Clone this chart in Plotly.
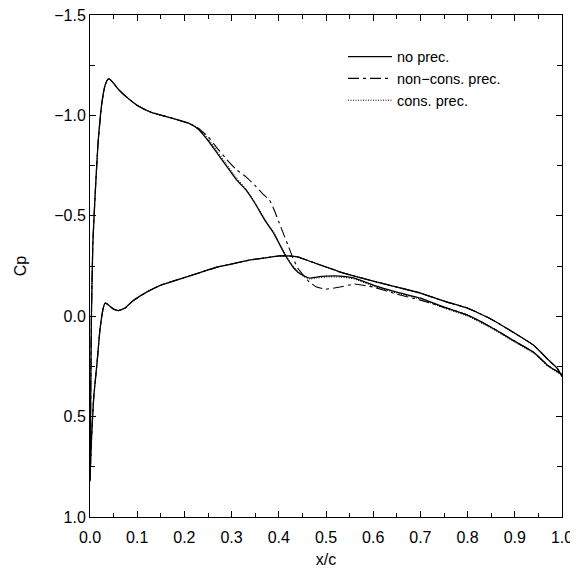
import plotly.graph_objects as go

# ---------------- data ----------------
# upper (suction) surface
x_upper = [0.0, 0.001, 0.002, 0.003, 0.006, 0.011, 0.017, 0.025, 0.032, 0.038, 0.042,
           0.05, 0.06, 0.078, 0.10, 0.13, 0.16, 0.19, 0.21, 0.23, 0.25, 0.27, 0.29,
           0.31, 0.33, 0.35, 0.37, 0.38, 0.39, 0.40, 0.41, 0.42, 0.43, 0.44, 0.45,
           0.465, 0.48, 0.50, 0.53, 0.56, 0.60, 0.65, 0.70, 0.75, 0.80, 0.85, 0.90,
           0.94, 0.97, 0.99, 1.0]
cp_upper_noprec = [0.82, 0.55, 0.25, 0.0, -0.36, -0.61, -0.86, -1.06, -1.15, -1.18, -1.18,
                   -1.16, -1.13, -1.09, -1.05, -1.015, -0.995, -0.975, -0.96, -0.93, -0.875,
                   -0.81, -0.745, -0.68, -0.63, -0.56, -0.48, -0.445, -0.41, -0.365, -0.32,
                   -0.28, -0.245, -0.22, -0.205, -0.19, -0.195, -0.20, -0.20, -0.19, -0.155,
                   -0.12, -0.09, -0.045, -0.005, 0.055, 0.125, 0.18, 0.245, 0.275, 0.29]
cp_upper_noncons = [0.82, 0.55, 0.25, 0.0, -0.36, -0.61, -0.86, -1.06, -1.15, -1.18, -1.18,
                    -1.16, -1.13, -1.09, -1.05, -1.015, -0.995, -0.975, -0.96, -0.935, -0.895,
                    -0.835, -0.78, -0.73, -0.695, -0.65, -0.60, -0.58, -0.53, -0.47, -0.41,
                    -0.35, -0.29, -0.24, -0.21, -0.17, -0.145, -0.135, -0.145, -0.16, -0.145,
                    -0.11, -0.08, -0.045, -0.005, 0.055, 0.125, 0.18, 0.245, 0.275, 0.29]
cp_upper_cons = [0.82, 0.55, 0.25, 0.0, -0.36, -0.61, -0.86, -1.06, -1.15, -1.18, -1.18,
                 -1.16, -1.13, -1.09, -1.05, -1.015, -0.995, -0.975, -0.96, -0.935, -0.885,
                 -0.82, -0.755, -0.69, -0.635, -0.565, -0.485, -0.45, -0.415, -0.37, -0.325,
                 -0.285, -0.25, -0.225, -0.20, -0.185, -0.19, -0.195, -0.195, -0.185, -0.15,
                 -0.115, -0.085, -0.04, 0.0, 0.06, 0.13, 0.185, 0.25, 0.28, 0.29]

# lower (pressure) surface
x_lower = [0.0, 0.002, 0.004, 0.008, 0.015, 0.021, 0.028, 0.032, 0.037, 0.042, 0.05,
           0.06, 0.074, 0.09, 0.12, 0.15, 0.19, 0.23, 0.27, 0.30, 0.34, 0.37, 0.40,
           0.42, 0.44, 0.47, 0.50, 0.53, 0.56, 0.60, 0.65, 0.70, 0.75, 0.80, 0.85,
           0.90, 0.94, 0.97, 0.99, 1.0]
cp_lower_noprec = [0.82, 0.68, 0.57, 0.40, 0.23, 0.07, -0.04, -0.065, -0.06, -0.05, -0.035,
                   -0.028, -0.04, -0.075, -0.12, -0.155, -0.185, -0.215, -0.245, -0.26, -0.28,
                   -0.29, -0.30, -0.30, -0.295, -0.27, -0.245, -0.22, -0.20, -0.175, -0.145,
                   -0.115, -0.075, -0.04, 0.015, 0.085, 0.145, 0.215, 0.26, 0.30]
cp_lower_noncons = [0.82, 0.68, 0.57, 0.40, 0.23, 0.07, -0.04, -0.065, -0.06, -0.05, -0.035,
                    -0.028, -0.04, -0.075, -0.12, -0.155, -0.185, -0.215, -0.245, -0.26, -0.28,
                    -0.29, -0.30, -0.30, -0.295, -0.27, -0.245, -0.22, -0.20, -0.175, -0.145,
                    -0.115, -0.075, -0.04, 0.015, 0.085, 0.145, 0.215, 0.26, 0.30]
cp_lower_cons = [0.82, 0.68, 0.57, 0.40, 0.23, 0.07, -0.04, -0.065, -0.06, -0.05, -0.035,
                 -0.028, -0.04, -0.075, -0.12, -0.155, -0.185, -0.215, -0.245, -0.26, -0.28,
                 -0.29, -0.30, -0.30, -0.295, -0.27, -0.245, -0.22, -0.20, -0.175, -0.145,
                 -0.115, -0.075, -0.04, 0.015, 0.085, 0.145, 0.215, 0.26, 0.30]

series_names = ["no prec.", "non\u2212cons. prec.", "cons. prec."]

x_ticks = [0.0, 0.1, 0.2, 0.3, 0.4, 0.5, 0.6, 0.7, 0.8, 0.9, 1.0]
y_ticks = [-1.5, -1.0, -0.5, 0.0, 0.5, 1.0]

# ---------------- figure ----------------
FONT = "Liberation Sans, Arial, sans-serif"
styles = [
    dict(color="black", width=1.3, dash="solid"),
    dict(color="black", width=1.1, dash="11px,4px,3px,4px"),
    dict(color="black", width=1.0, dash="1px,1.5px"),
]
uppers = [cp_upper_noprec, cp_upper_noncons, cp_upper_cons]
lowers = [cp_lower_noprec, cp_lower_noncons, cp_lower_cons]

fig = go.Figure()
for name, st, cu, cl in zip(series_names, styles, uppers, lowers):
    xs = list(reversed(x_lower)) + x_upper
    ys = list(reversed(cl)) + cu
    fig.add_trace(go.Scatter(x=xs, y=ys, mode="lines", name=name, line=st,
                             legendgroup=name, line_shape="spline",
                             line_smoothing=0.4))

axis_common = dict(
    showline=True, linecolor="black", linewidth=1, mirror="allticks",
    ticks="inside", tickcolor="black", ticklen=6, tickwidth=1,
    showgrid=False, zeroline=False, automargin=False,
    ticklabeloverflow="allow",
    tickfont=dict(family=FONT, size=16, color="black"),
)

# the page adds an 8px body margin, so the figure is 8px smaller and margins are offset
fig.update_layout(
    width=570, height=569,
    margin=dict(l=82, r=16, t=7, b=60),
    paper_bgcolor="white", plot_bgcolor="white",
    font=dict(family=FONT, size=16, color="black"),
    showlegend=True,
    legend=dict(x=0.536, y=0.949, xanchor="left", yanchor="top",
                bgcolor="rgba(0,0,0,0)", borderwidth=0, itemwidth=44,
                font=dict(family=FONT, size=14.5, color="black"),
                traceorder="grouped", tracegroupgap=0),
    xaxis=dict(axis_common, range=[0, 1], tickvals=x_ticks,
               ticktext=[f"{v:.1f}" for v in x_ticks], ticklabelstandoff=6,
               minor=dict(ticks="inside", dtick=0.05, ticklen=4, tickcolor="black", showgrid=False),
               title=dict(text="x/c", font=dict(family=FONT, size=16), standoff=8)),
    yaxis=dict(axis_common, range=[1.0, -1.5], tickvals=y_ticks,
               ticktext=[("\u2212" if v < 0 else "") + f"{abs(v):.1f}" for v in y_ticks],
               minor=dict(ticks="inside", dtick=0.25, ticklen=5, tickcolor="black", showgrid=False),
               title=dict(text="Cp", font=dict(family=FONT, size=16), standoff=23)),
)

fig.write_html("out.html")
